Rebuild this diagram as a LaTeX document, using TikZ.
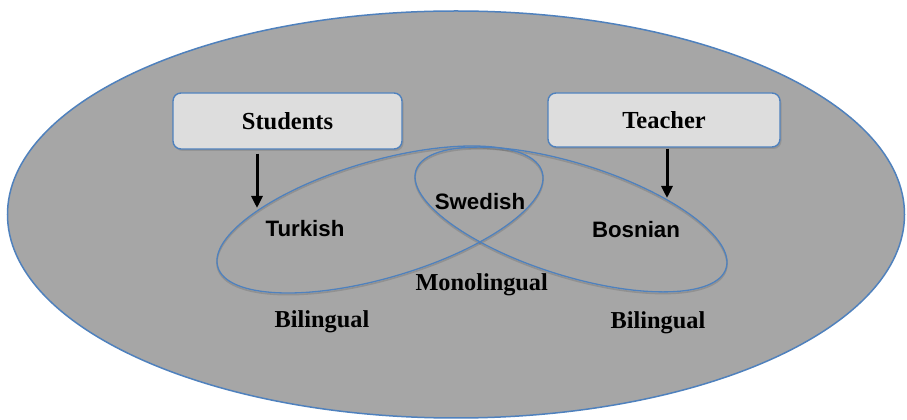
\documentclass[tikz,border=0pt]{standalone}
\usepackage{fontspec}
\setmainfont{Liberation Serif}
\newfontfamily\sansbold{Liberation Sans}
\usetikzlibrary{shadows,arrows.meta}
\definecolor{edgeblue}{RGB}{79,129,189}
\definecolor{areagray}{RGB}{166,166,166}
\definecolor{boxgray}{RGB}{221,221,221}
\tikzset{
  x=1pt, y=1pt,
  lang/.style={font=\sansbold\bfseries\fontsize{22.3}{26}\selectfont, text=black, inner sep=0pt},
  serifl/.style={font=\bfseries\fontsize{24.3}{28}\selectfont, text=black, inner sep=0pt},
  rolebox/.style={draw=edgeblue, line width=1.4pt, fill=boxgray, rounded corners=8pt,
    minimum width=229pt, minimum height=56pt, font=\bfseries\fontsize{24.5}{28}\selectfont,
    drop shadow={shadow xshift=1.5pt, shadow yshift=-2pt, opacity=0.45}},
  ringline/.style={draw=edgeblue, line width=1.3pt},
  ringshadow/.style={draw=black, line width=1.6pt, opacity=0.12},
  arr/.style={draw=black, line width=3pt, -{Triangle[length=12pt, width=11pt]}}
}
\begin{document}
\begin{tikzpicture}
\useasboundingbox (0,0) rectangle (907,420);
\fill[white] (0,0) rectangle (907,420);
% outer ellipse
\path[fill=areagray, draw=edgeblue, line width=1.5pt] (456,205.5) ellipse [x radius=448.5pt, y radius=203.5pt];
% shadows of inner ellipses
\draw[ringshadow, rotate around={16.3:(380,198.8)}] (380,198.8) ellipse [x radius=169pt, y radius=58.5pt];
\draw[ringshadow, rotate around={-17.5:(571,198.8)}] (571,198.8) ellipse [x radius=162.6pt, y radius=56pt];
% inner ellipses
\draw[ringline, rotate around={16.3:(380,200.5)}] (380,200.5) ellipse [x radius=169pt, y radius=58.5pt];
\draw[ringline, rotate around={-17.5:(571,200.5)}] (571,200.5) ellipse [x radius=162.6pt, y radius=56pt];
% boxes
\node[rolebox] (stu) at (287.5,299) {Students};
\node[rolebox, minimum width=232pt, minimum height=54pt] (tea) at (664,300) {Teacher};
% arrow targets
\coordinate (stuend) at (257,212);
\coordinate (teaend) at (667,222);
\draw[arr] ([yshift=-4pt]stu.south -| stuend) -- (stuend);
\draw[arr] ([yshift=-1pt]tea.south -| teaend) -- (teaend);
% language labels
\node[lang] (tur) at (305,191) {Turkish};
\node[lang] (swe) at (480,218.3) {Swedish};
\node[lang] (bos) at (636,190) {Bosnian};
% other labels
\node[serifl] (mono) at (481.7,135) {Monolingual};
\node[serifl] (bil1) at (322,98) {Bilingual};
\node[serifl] (bil2) at (658,97) {Bilingual};
\end{tikzpicture}
\end{document}
